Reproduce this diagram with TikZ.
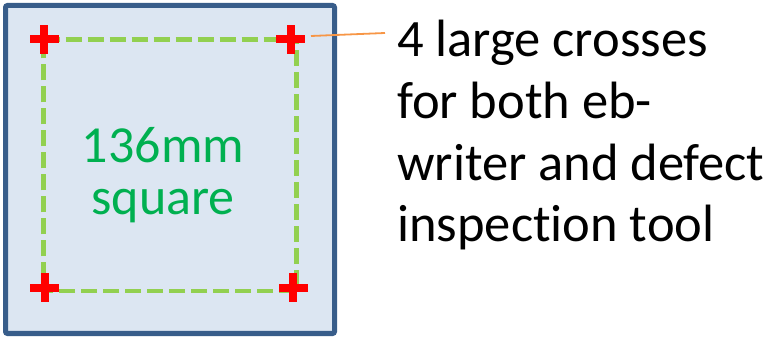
\documentclass[tikz,border=0pt]{standalone}
\usepackage{fontspec}
\setmainfont{Carlito}[Ligatures=CommonOff]
\usetikzlibrary{calc}
\definecolor{boxfill}{HTML}{DCE6F2}
\definecolor{boxline}{HTML}{385D8A}
\definecolor{dashgreen}{HTML}{92D050}
\definecolor{txtgreen}{HTML}{00B050}
\definecolor{leader}{HTML}{F79646}
\begin{document}
\begin{tikzpicture}[x=1pt,y=-1pt,
  outerbox/.style={draw=boxline,fill=boxfill,line width=5pt,rounded corners=2pt},
  dashbox/.style={draw=dashgreen,line width=4.5pt,dash pattern=on 16pt off 6pt},
  crossmark/.style={fill=red,draw=none},
  leaderline/.style={draw=leader,line width=1.8pt},
  bigtext/.style={font=\fontsize{52.5}{61.7}\selectfont,align=left,inner sep=0pt,anchor=base west},
  greentext/.style={font=\fontsize{52}{52}\selectfont,text=txtgreen,align=center,inner sep=0pt,anchor=base}]
\useasboundingbox (0,0) rectangle (769,339);
\path[outerbox] (5.5,5.5) rectangle (334.5,333.5);
\draw[dashbox] (43.7,39.5) -- (296.7,39.5) -- (296.7,291) -- (43.7,291) -- cycle;
\foreach \n/\cx/\cy in {tl/44/39.5, tr/290.5/39.5, bl/44.5/288, br/293/288}{
  \coordinate (\n) at (\cx,\cy);
  \fill[crossmark] ($(\n)+(-14.5,-4)$) rectangle ($(\n)+(14.5,4)$);
  \fill[crossmark] ($(\n)+(-4,-14.5)$) rectangle ($(\n)+(4,14.5)$);
}
\node[greentext] (sq) at (163,215) {136mm\\square};
\coordinate (lstart) at (311,36);
\node[bigtext] (txt) at (397,242) {4 large crosses\\for both eb-\\writer and defect\\inspection tool};
\coordinate (lend) at (385,33);
\draw[leaderline] (lstart) -- (lend);
\end{tikzpicture}
\end{document}
